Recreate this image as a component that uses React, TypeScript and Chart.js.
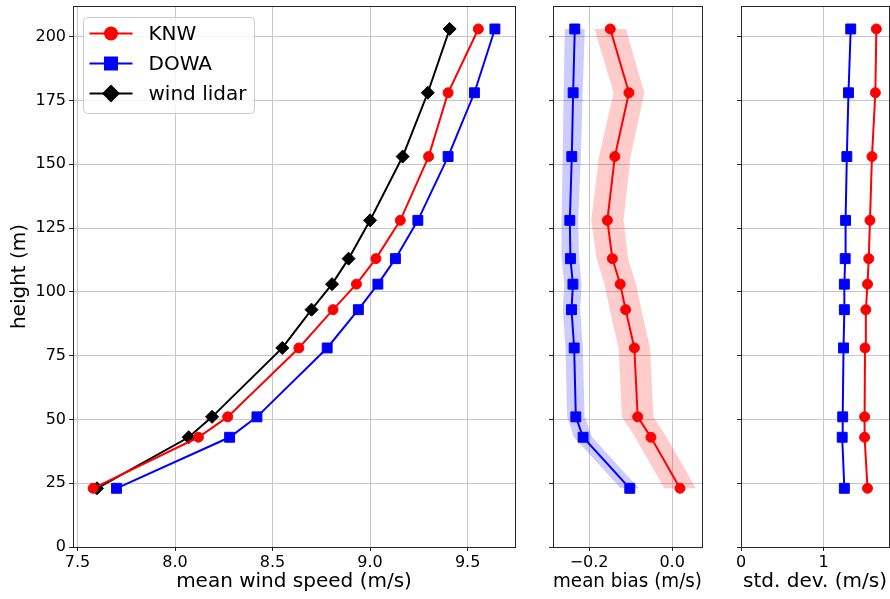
import React, { useEffect, useRef } from 'react';
import { Chart, registerables } from 'chart.js';

Chart.register(...registerables);

// ---------------- data ----------------
const heights = [23, 43, 51, 78, 93, 103, 113, 128, 153, 178, 203];

const knwSpeed = [7.58, 8.12, 8.27, 8.635, 8.81, 8.93, 9.03, 9.155, 9.3, 9.4, 9.555];
const dowaSpeed = [7.7, 8.28, 8.42, 8.78, 8.94, 9.04, 9.13, 9.245, 9.4, 9.535, 9.64];
const lidarSpeed = [7.6, 8.07, 8.19, 8.55, 8.7, 8.805, 8.89, 9.0, 9.167, 9.296, 9.408];

const knwBias = [0.019, -0.051, -0.083, -0.091, -0.112, -0.125, -0.144, -0.156, -0.138, -0.104, -0.149];
const dowaBias = [-0.102, -0.2145, -0.232, -0.236, -0.2424, -0.239, -0.245, -0.2465, -0.2417, -0.2385, -0.2345];
const knwBiasSpread = [0.038, 0.038, 0.038, 0.038, 0.038, 0.038, 0.038, 0.039, 0.038, 0.037, 0.038];
const dowaBiasSpread = [0.022, 0.022, 0.021, 0.021, 0.021, 0.021, 0.021, 0.02, 0.022, 0.023, 0.024];

const knwStd = [1.53, 1.495, 1.495, 1.5, 1.51, 1.53, 1.545, 1.56, 1.584, 1.625, 1.637];
const dowaStd = [1.25, 1.224, 1.23, 1.24, 1.25, 1.25, 1.26, 1.265, 1.28, 1.3, 1.327];

const heightTicks = [0, 25, 50, 75, 100, 125, 150, 175, 200];
const speedTicks = [7.5, 8.0, 8.5, 9.0, 9.5];
const biasTicks = [-0.2, 0.0];
const stdTicks = [0, 1];

const legendLabels = ['KNW', 'DOWA', 'wind lidar'];

// ---------------- styles ----------------
const FONT = '"DejaVu Sans", sans-serif';
const RED = '#ff0000';
const BLUE = '#0000ff';
const BLACK = '#000000';
const GRID = '#c6c6c6';
const SPINE = '#262626';

const pts = (xs: number[]) => xs.map((x, i) => ({ x, y: heights[i] }));
const band = (c: number[], s: number[]) => {
  const left = c.map((v, i) => ({ x: v - s[i], y: heights[i] }));
  const right = c.map((v, i) => ({ x: v + s[i], y: heights[i] })).reverse();
  return left.concat(right);
};

const lineDs = (label: string, xs: number[], color: string, style: string, radius: number) => ({
  label,
  data: pts(xs),
  borderColor: color,
  backgroundColor: color,
  borderWidth: 2,
  pointStyle: style,
  pointRadius: radius,
  pointBackgroundColor: color,
  pointBorderColor: color,
  pointBorderWidth: 1,
  fill: false,
  tension: 0,
  order: 0,
});

const bandDs = (c: number[], s: number[], color: string) => ({
  label: 'band',
  data: band(c, s),
  borderColor: 'rgba(0,0,0,0)',
  backgroundColor: color,
  borderWidth: 1,
  pointRadius: 0,
  fill: 'shape',
  tension: 0,
  order: 5,
});

const framePlugin = {
  id: 'frame',
  afterDatasetsDraw(chart: any) {
    const { ctx, chartArea: a } = chart;
    ctx.save();
    ctx.strokeStyle = SPINE;
    ctx.lineWidth = 1;
    ctx.strokeRect(
      Math.round(a.left) + 0.5,
      Math.round(a.top) + 0.5,
      Math.round(a.right) - Math.round(a.left),
      Math.round(a.bottom) - Math.round(a.top)
    );
    ctx.restore();
  },
};

const drawMarker = (ctx: CanvasRenderingContext2D, style: string, x: number, y: number, color: string) => {
  ctx.fillStyle = color;
  ctx.beginPath();
  if (style === 'circle') {
    ctx.arc(x, y, 7, 0, Math.PI * 2);
  } else if (style === 'rect') {
    ctx.rect(x - 7, y - 7, 14, 14);
  } else {
    ctx.moveTo(x - 9, y);
    ctx.lineTo(x, y - 9);
    ctx.lineTo(x + 9, y);
    ctx.lineTo(x, y + 9);
    ctx.closePath();
  }
  ctx.fill();
};

const legendPlugin = {
  id: 'profileLegend',
  afterDatasetsDraw(chart: any) {
    const { ctx, chartArea: a } = chart;
    const styles = ['circle', 'rect', 'rectRot'];
    const colors = [RED, BLUE, BLACK];
    const bx = Math.round(a.left) + 10.5;
    const by = Math.round(a.top) + 11.5;
    const bw = 171;
    const bh = 96;
    ctx.save();
    ctx.beginPath();
    const r = 4;
    ctx.moveTo(bx + r, by);
    ctx.lineTo(bx + bw - r, by);
    ctx.arcTo(bx + bw, by, bx + bw, by + r, r);
    ctx.lineTo(bx + bw, by + bh - r);
    ctx.arcTo(bx + bw, by + bh, bx + bw - r, by + bh, r);
    ctx.lineTo(bx + r, by + bh);
    ctx.arcTo(bx, by + bh, bx, by + bh - r, r);
    ctx.lineTo(bx, by + r);
    ctx.arcTo(bx, by, bx + r, by, r);
    ctx.closePath();
    ctx.fillStyle = 'rgba(255,255,255,0.8)';
    ctx.fill();
    ctx.strokeStyle = '#cccccc';
    ctx.lineWidth = 1;
    ctx.stroke();
    legendLabels.forEach((lab, i) => {
      const y = by + 16 + i * 30;
      ctx.strokeStyle = colors[i];
      ctx.lineWidth = 2;
      ctx.beginPath();
      ctx.moveTo(bx + 6, y);
      ctx.lineTo(bx + 49, y);
      ctx.stroke();
      drawMarker(ctx, styles[i], bx + 27.5, y, colors[i]);
      ctx.fillStyle = '#000';
      ctx.font = `20px ${FONT}`;
      ctx.textBaseline = 'middle';
      ctx.textAlign = 'left';
      ctx.fillText(lab, bx + 65, y + 1);
    });
    ctx.restore();
  },
};

const setTicks = (vals: number[]) => (scale: any) => {
  scale.ticks = vals.map((v) => ({ value: v }));
};

interface PanelCfg {
  datasets: any[];
  xMin: number;
  xMax: number;
  xTicks: number[];
  fmt: (v: number) => string;
  xTitle: string;
  showY: boolean;
  yWidth: number;
  padRight: number;
  legend?: boolean;
}

const makeConfig = (p: PanelCfg): any => ({
  type: 'line',
  data: { datasets: p.datasets },
  plugins: p.legend ? [framePlugin, legendPlugin] : [framePlugin],
  options: {
    indexAxis: 'y',
    responsive: false,
    animation: false,
    devicePixelRatio: 1,
    layout: { autoPadding: false, padding: { top: 6, right: p.padRight, left: 0, bottom: 0 } },
    plugins: { legend: { display: false }, tooltip: { enabled: false } },
    events: [],
    scales: {
      x: {
        type: 'linear',
        position: 'bottom',
        min: p.xMin,
        max: p.xMax,
        afterBuildTicks: setTicks(p.xTicks),
        afterFit: (s: any) => {
          s.height = 52;
          s.paddingLeft = 0;
          s.paddingRight = 0;
        },
        grid: { color: GRID, lineWidth: 1, drawTicks: true, tickLength: 4, tickColor: SPINE, tickWidth: 1 },
        border: { display: false },
        ticks: {
          font: { family: FONT, size: 16 },
          color: '#000',
          padding: 2,
          maxRotation: 0,
          autoSkip: false,
          callback: (v: any) => p.fmt(Number(v)),
        },
        title: {
          display: true,
          text: p.xTitle,
          font: { family: FONT, size: 20 },
          color: '#000',
          padding: { top: 0, bottom: 5 },
        },
      },
      y: {
        type: 'linear',
        position: 'left',
        min: 0,
        max: 212,
        afterBuildTicks: setTicks(heightTicks),
        afterFit: (s: any) => {
          s.width = p.yWidth;
          s.paddingTop = 0;
          s.paddingBottom = 0;
        },
        grid: { color: GRID, lineWidth: 1, drawTicks: true, tickLength: 4, tickColor: SPINE, tickWidth: 1 },
        border: { display: false },
        ticks: {
          display: p.showY,
          font: { family: FONT, size: 16 },
          color: '#000',
          padding: 3,
          callback: (v: any) => String(v),
        },
        title: {
          display: p.showY,
          text: 'height (m)',
          font: { family: FONT, size: 20 },
          color: '#000',
          padding: { top: 8, bottom: 0 },
        },
      },
    },
  },
});

const fmt1 = (v: number) => (v < -1e-9 ? '\u2212' : '') + Math.abs(v).toFixed(1);
const fmt0 = (v: number) => String(Math.round(v));

const Panel: React.FC<{ cfg: PanelCfg; left: number; width: number }> = ({ cfg, left, width }) => {
  const ref = useRef<HTMLCanvasElement | null>(null);
  useEffect(() => {
    if (!ref.current) return;
    const chart = new Chart(ref.current, makeConfig(cfg));
    return () => chart.destroy();
  }, []);
  return (
    <canvas
      ref={ref}
      width={width}
      height={599}
      style={{ position: 'absolute', left, top: 0, width, height: 599, display: 'block' }}
    />
  );
};

export default function App() {
  const speedPanel: PanelCfg = {
    datasets: [
      lineDs('KNW', knwSpeed, RED, 'circle', 5),
      lineDs('DOWA', dowaSpeed, BLUE, 'rect', 7),
      lineDs('wind lidar', lidarSpeed, BLACK, 'rectRot', 6.5),
    ],
    xMin: 7.477,
    xMax: 9.743,
    xTicks: speedTicks,
    fmt: fmt1,
    xTitle: 'mean wind speed (m/s)',
    showY: true,
    yWidth: 73,
    padRight: 5,
    legend: true,
  };
  const biasPanel: PanelCfg = {
    datasets: [
      lineDs('KNW', knwBias, RED, 'circle', 5),
      lineDs('DOWA', dowaBias, BLUE, 'rect', 7),
      bandDs(knwBias, knwBiasSpread, 'rgba(255,0,0,0.2)'),
      bandDs(dowaBias, dowaBiasSpread, 'rgba(0,0,255,0.2)'),
    ],
    xMin: -0.287,
    xMax: 0.072,
    xTicks: biasTicks,
    fmt: fmt1,
    xTitle: 'mean bias (m/s)',
    showY: false,
    yWidth: 33,
    padRight: 8,
  };
  const stdPanel: PanelCfg = {
    datasets: [
      lineDs('KNW', knwStd, RED, 'circle', 5),
      lineDs('DOWA', dowaStd, BLUE, 'rect', 7),
    ],
    xMin: 0,
    xMax: 1.79,
    xTicks: stdTicks,
    fmt: fmt0,
    xTitle: 'std. dev. (m/s)',
    showY: false,
    yWidth: 31,
    padRight: 1,
  };
  return (
    <div style={{ position: 'absolute', left: 0, top: 0, width: 890, height: 599, background: '#fff', overflow: 'hidden' }}>
      <Panel cfg={speedPanel} left={0} width={520} />
      <Panel cfg={biasPanel} left={520} width={190} />
      <Panel cfg={stdPanel} left={710} width={180} />
    </div>
  );
}
